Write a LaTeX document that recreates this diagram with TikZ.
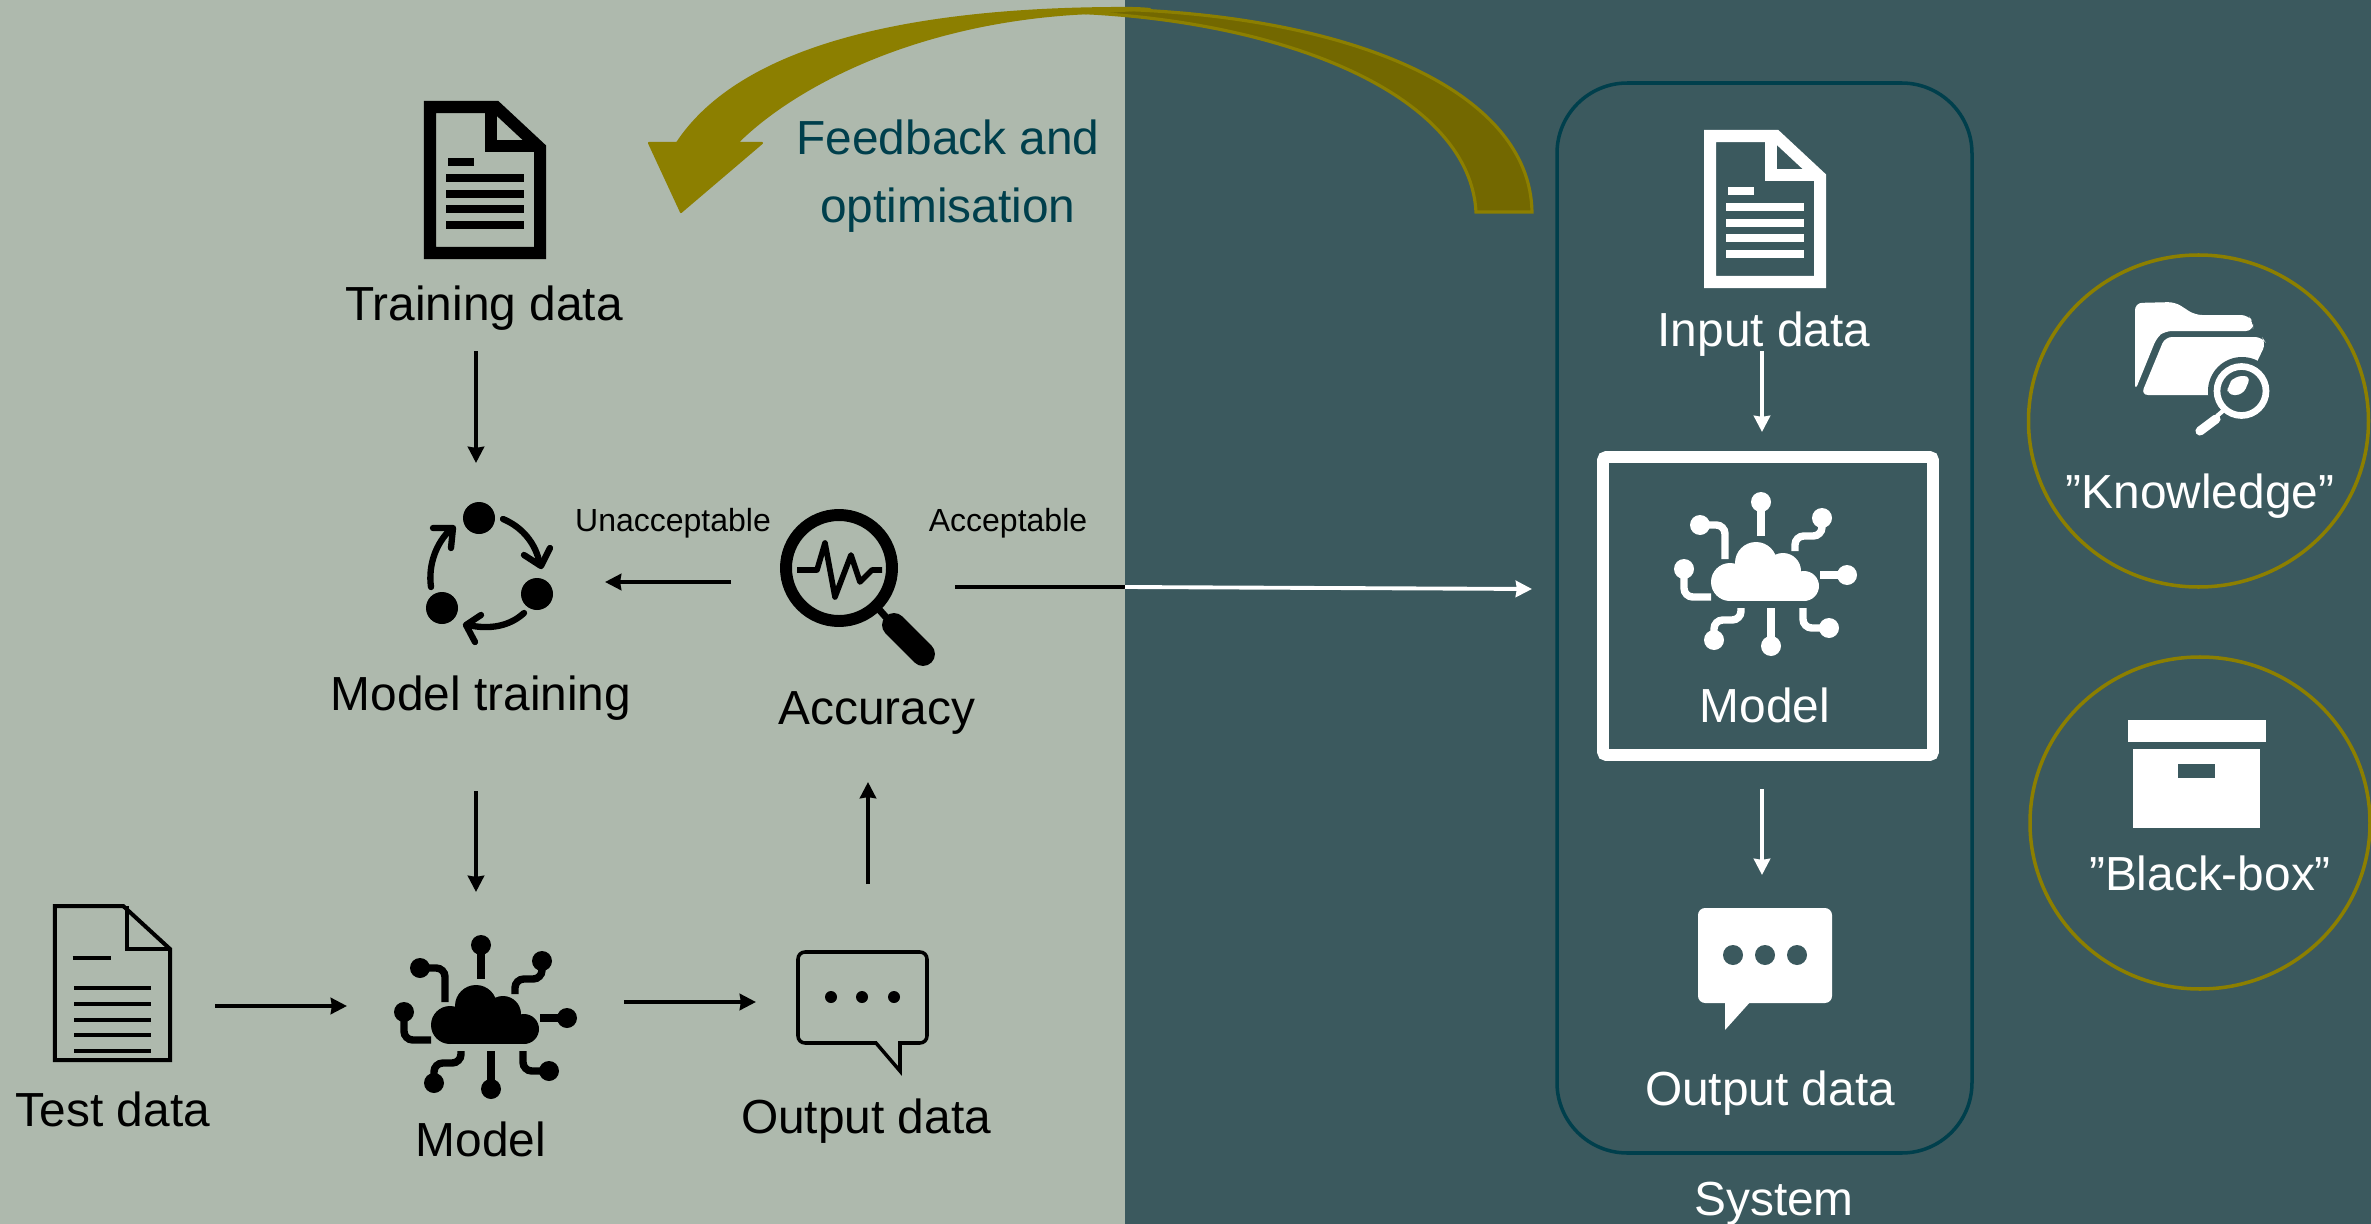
\documentclass[tikz,border=0pt]{standalone}
\usepackage{fontspec}
\setmainfont{Liberation Sans}
\usetikzlibrary{arrows.meta}
\definecolor{lightbg}{HTML}{AEB9AD}
\definecolor{darkbg}{HTML}{3B595E}
\definecolor{tealline}{HTML}{003F4C}
\definecolor{olive}{HTML}{8C7F00}
\definecolor{darkolive}{HTML}{736800}
\tikzset{
	bigtext/.style={anchor=base,font=\fontsize{13.6}{16}\selectfont},
	smalltext/.style={anchor=base,font=\fontsize{9.1}{11}\selectfont},
	flow/.style={line width=1.1pt,-{Stealth[length=4.6pt,width=4.6pt,inset=0.3pt]}},
	trace/.style={line width=2.1pt,rounded corners=2.5pt},
}
%%% doc icon: scope options, colour, half stroke, fold x, lines, line width, short line
\newcommand{\docicon}[7]{
	\begin{scope}[#1]
		\draw[#2,line width={2*#3*0.2845pt},miter limit=10] (#3,#3)--(72,#3)--(122-#3,44+#3/2)--(122-#3,158-#3)--(#3,158-#3)--cycle;
		\draw[#2,line width={2*#3*0.2845pt}] (#4,#3)--(#4,45)--(122-#3,45);
		\draw[#2,line width=#6] #7;
		\foreach \yy in {#5} \draw[#2,line width=#6] (22,\yy)--(100,\yy);
	\end{scope}
}
%%% cloud with traces, same size in both places
\newcommand{\modelicon}[2]{
	\begin{scope}[shift={#1},#2]
		\fill (450,1025) circle (19);
		\fill (476,1006) circle (21);
		\fill (503,1014) circle (18);
		\fill (524,1029) circle (15);
		\fill (450,1024) rectangle (524,1044);
		\fill (465,1010) rectangle (510,1030);
		\fill (481,945) circle (10);
		\fill (420,968) circle (10);
		\fill (542,961) circle (10);
		\fill (404,1012) circle (10);
		\fill (567,1018) circle (10);
		\fill (434,1083) circle (10);
		\fill (491,1089) circle (10);
		\fill (549,1071) circle (10);
		\draw[trace] (481,945)--(481,979);
		\draw[trace] (420,968)--(445,968)--(445,1002);
		\draw[trace] (542,961)--(542,979)--(515,979)--(515,994);
		\draw[trace] (404,1012)--(404,1040)--(431,1040);
		\draw[trace] (567,1018)--(540,1018);
		\draw[trace] (434,1083)--(434,1063)--(461,1063)--(461,1051);
		\draw[trace] (491,1089)--(491,1051);
		\draw[trace] (549,1071)--(523,1071)--(523,1051);
	\end{scope}
}
\begin{document}
\begin{tikzpicture}[x=0.01cm,y=-0.01cm,line join=miter]
	\useasboundingbox (0,0) rectangle (2371,1224);
	\fill[lightbg] (0,0) rectangle (1125,1224);
	\fill[darkbg] (1125,0) rectangle (2371,1224);
	%%% big arrow
	\filldraw[darkolive,draw=olive,line width=0.9pt] (1110,9) .. controls (1350,15) and (1530,90) .. (1532,212)--(1476,212) .. controls (1470,100) and (1300,25) .. (1091,13)--cycle;
	\filldraw[olive,line width=0.6pt,line join=round] (1150,9) .. controls (1140,8) and (1130,8) .. (1125,8) .. controls (885,8) and (735,55) .. (677,143)--(649,143)--(681,212)--(762,143)--(737,143) .. controls (795,85) and (920,20) .. (1091,13)--cycle;
	\node[bigtext,tealline,align=center,font=\fontsize{13.6}{19.3}\selectfont,anchor=base] (feedback) at (948,222) {Feedback and\\optimisation};
	%%% left side
	\docicon{shift={(424,101)}}{black}{6}{67}{77,93,108,124}{2.3pt}{(24,61)--(50,61)}
	\node[bigtext] (trainingdata) at (484,320) {Training data};
	%%% cycle
	\fill (479,518) circle (16);
	\fill (442,608) circle (16);
	\fill (537,594) circle (16);
	\begin{scope}[line width=1.8pt,line cap=round,line join=round]
		\draw (503,519) .. controls (522,527) and (536,543) .. (540,565);
		\draw (524,555)--(541,566)--(550,548);
		\draw (524,613) .. controls (510,626) and (490,630) .. (468,625);
		\draw (481,615)--(466,625)--(475,642);
		\draw (431,587) .. controls (428,565) and (436,543) .. (451,529);
		\draw (433,528)--(453,528)--(451,548);
	\end{scope}
	\node[bigtext] (modeltraining) at (481,710) {Model training};
	%%% magnifier
	\draw[line width=3.4pt] (839,568) circle (53);
	\draw[line width=1.6pt,line join=round] (797,570)--(817,570)--(825,543)--(835,597)--(851,555)--(860,582)--(872,570)--(882,570);
	\draw[line width=2pt] (876,606)--(892,624);
	\draw[line width=6.8pt,line cap=round] (894,625)--(923,654);
	\node[bigtext] (accuracy) at (877,724) {Accuracy};
	\node[smalltext] (unacceptable) at (673,531) {Unacceptable};
	\node[smalltext] (acceptable) at (1008,531) {Acceptable};
	\docicon{shift={(53,904)},xscale=0.975}{black}{2}{76}{84,100,116,131,147}{1.1pt}{(20,54)--(59,54)}
	\node[bigtext] (testdata) at (113,1126) {Test data};
	\modelicon{(0,0)}{black}
	\node[bigtext] (modelleft) at (481,1156) {Model};
	%%% outline bubble
	\draw[line width=1pt,rounded corners=2pt] (798,952)--(927,952)--(927,1043)[sharp corners]--(900,1043)--(900,1071)--(876,1043)[rounded corners=2pt]--(798,1043)--cycle;
	\fill (831,997) circle (6);
	\fill (862,997) circle (6);
	\fill (894,997) circle (6);
	\node[bigtext] (outputleft) at (866,1133) {Output data};
	%%% right side
	\draw[tealline,line width=1pt,rounded corners=20pt] (1557,83) rectangle (1972,1153);
	\docicon{shift={(1704,130)}}{white}{6}{67}{77,93,108,124}{2.3pt}{(24,61)--(50,61)}
	\node[bigtext,white] (inputdata) at (1764,346) {Input data};
	\draw[white,line width=3.4pt,rounded corners=1pt] (1603,457) rectangle (1933,755);
	\modelicon{(1280,-443)}{white}
	\node[bigtext,white] (modelright) at (1765,722) {Model};
	\fill[white,rounded corners=2pt] (1698,908) rectangle (1832,1003);
	\fill[white] (1725,1000)--(1725,1030)--(1752,1000)--cycle;
	\fill[darkbg] (1733,955) circle (10);
	\fill[darkbg] (1765,955) circle (10);
	\fill[darkbg] (1797,955) circle (10);
	\node[bigtext,white] (outputright) at (1770,1105) {Output data};
	\node[bigtext,white] (system) at (1774,1215) {System};
	%%% circles
	\draw[olive,line width=1pt] (2198.5,421) ellipse (170 and 166);
	\draw[olive,line width=1pt] (2200,823) ellipse (170 and 166);
	\fill[white,rounded corners=2pt] (2135,391)--(2135,303)--(2175,302)--(2195,315)--(2248,315)--(2253,322)--(2253,331)--(2165,331)--(2157,337)--cycle;
	\fill[white,rounded corners=2pt] (2141,395)--(2165,337)--(2262,337)--(2266,343)--(2255,366)--(2240,395)--cycle;
	\fill[darkbg] (2242,391) circle (34);
	\fill[white,rounded corners=2pt] (2227,395)--(2243,395)--(2251,376)--(2235,376)--(2228,385)--cycle;
	\draw[white,line width=1.9pt] (2241.5,391) circle (24.5);
	\draw[white,line width=1.2pt] (2217,416)--(2224,410);
	\draw[white,line width=2.6pt,line cap=round] (2200,431)--(2216,419);
	\node[bigtext,white] (knowledge) at (2200,508) {”Knowledge”};
	\fill[white] (2128,720) rectangle (2266,742);
	\fill[white] (2133,749) rectangle (2260,828);
	\fill[darkbg] (2178,763.5) rectangle (2215,778);
	\node[bigtext,white] (blackbox) at (2210,890) {”Black-box”};
	%%% connector ends
	\coordinate (trainout) at (476,351);
	\coordinate (cyclein) at (476,463);
	\coordinate (accleft) at (731,582);
	\coordinate (cycleright) at (605,582);
	\coordinate (cycleout) at (476,791);
	\coordinate (modelin) at (476,892);
	\coordinate (testout) at (215,1006);
	\coordinate (modelleftin) at (347,1006);
	\coordinate (modelout) at (624,1002);
	\coordinate (outputin) at (756,1002);
	\coordinate (outputout) at (868,884);
	\coordinate (accin) at (868,782);
	\coordinate (accright) at (955,587);
	\coordinate (border) at (1125,587);
	\coordinate (boxin) at (1532,589);
	\coordinate (inputout) at (1762,351);
	\coordinate (boxtop) at (1762,432);
	\coordinate (boxout) at (1762,789);
	\coordinate (outputrightin) at (1762,875);
	\draw[flow] (trainout)--(cyclein);
	\draw[flow] (accleft)--(cycleright);
	\draw[flow] (cycleout)--(modelin);
	\draw[flow] (testout)--(modelleftin);
	\draw[flow] (modelout)--(outputin);
	\draw[flow] (outputout)--(accin);
	\draw[line width=1.1pt] (accright)--(border);
	\draw[flow,white] (border)--(boxin);
	\draw[flow,white] (inputout)--(boxtop);
	\draw[flow,white] (boxout)--(outputrightin);
\end{tikzpicture}
\end{document}
